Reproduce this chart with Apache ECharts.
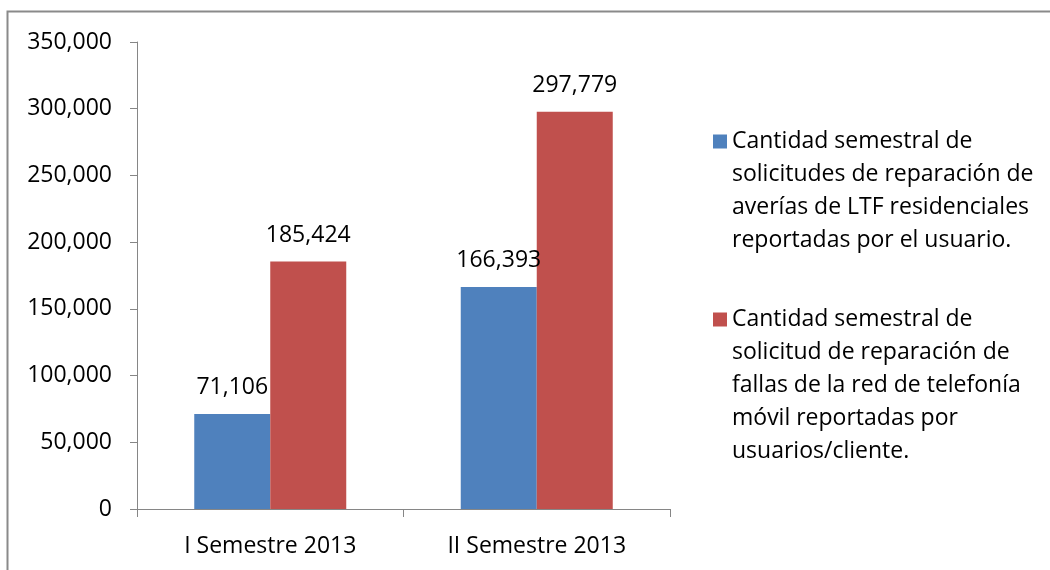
<!DOCTYPE html>
<html>
<head>
<meta charset="utf-8">
<script src="https://cdn.jsdelivr.net/npm/echarts@6/dist/echarts.min.js"></script>
<style>
  html, body { margin: 0; padding: 0; background: #fff; }
  #chart { width: 1050px; height: 570px; }
</style>
</head>
<body>
<div id="chart"></div>
<script>
// categorias y valores
const categories = ['I Semestre 2013', 'II Semestre 2013'];
const ltfValues = [71106, 166393];      // averias LTF residenciales
const movilValues = [185424, 297779];   // fallas red telefonia movil
const seriesNames = [
  'Cantidad semestral de\nsolicitudes de reparación de\naverías de LTF residenciales\nreportadas por el usuario.',
  'Cantidad semestral de\nsolicitud de reparación de\nfallas de la red de telefonía\nmóvil reportadas por\nusuarios/cliente.'
];
const colors = ['#4F81BD', '#C0504D'];

const FONT = '"Open Sans", sans-serif';
const LINE_H = 33;
const fmt = v => v.toLocaleString('en-US');

const chart = echarts.init(document.getElementById('chart'));

const barLabel = {
  show: true,
  position: 'top',
  distance: 15,
  color: '#000',
  fontFamily: FONT,
  fontSize: 23,
  formatter: p => fmt(p.value)
};

const option = {
  animation: false,
  graphic: [{
    type: 'rect',
    shape: { x: 7.5, y: 11.5, width: 1100, height: 600 },
    style: { fill: 'none', stroke: '#8a8a8a', lineWidth: 2 },
    silent: true
  }],
  grid: {
    left: 137,
    top: 42,
    width: 533,
    height: 467
  },
  legend: {
    orient: 'vertical',
    left: 713,
    top: 26,
    padding: 0,
    itemGap: -86,
    itemWidth: 14,
    itemHeight: 14,
    icon: 'rect',
    selectedMode: false,
    data: seriesNames,
    // lineas vacias arriba para que el icono quede junto a la primera linea
    formatter: name => '\n'.repeat(name.split('\n').length - 1) + name,
    textStyle: {
      color: '#000',
      fontFamily: FONT,
      fontSize: 23,
      lineHeight: LINE_H
    }
  },
  xAxis: {
    type: 'category',
    data: categories,
    axisLine: { lineStyle: { color: '#868686', width: 1 } },
    axisTick: { show: true, length: 8, lineStyle: { color: '#868686' } },
    axisLabel: {
      color: '#000',
      fontFamily: FONT,
      fontSize: 23,
      margin: 26
    }
  },
  yAxis: {
    type: 'value',
    min: 0,
    max: 350000,
    interval: 50000,
    splitLine: { show: false },
    axisLine: { show: true, lineStyle: { color: '#868686', width: 1 } },
    axisTick: { show: true, length: 7, lineStyle: { color: '#868686' } },
    axisLabel: {
      color: '#000',
      fontFamily: FONT,
      fontSize: 23,
      margin: 25,
      formatter: v => fmt(v)
    }
  },
  series: [
    {
      name: seriesNames[0],
      type: 'bar',
      barWidth: 76,
      barGap: '0%',
      data: ltfValues,
      itemStyle: { color: colors[0] },
      label: barLabel
    },
    {
      name: seriesNames[1],
      type: 'bar',
      barWidth: 76,
      barGap: '0%',
      data: movilValues,
      itemStyle: { color: colors[1] },
      label: barLabel
    }
  ]
};

chart.setOption(option);
</script>
</body>
</html>
